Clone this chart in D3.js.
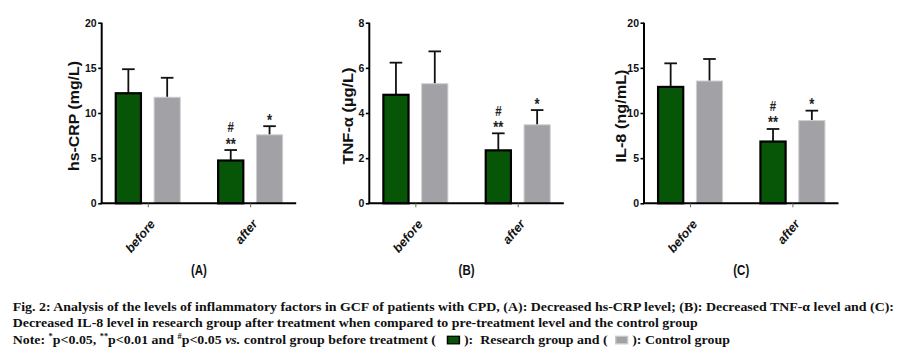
<!DOCTYPE html>
<html>
<head>
<meta charset="utf-8">
<script src="https://cdn.jsdelivr.net/npm/d3@7"></script>
<style>
  html, body { margin: 0; padding: 0; background: #fff; }
  svg { display: block; }
</style>
</head>
<body>
<svg id="chart" width="916" height="357"></svg>
<script>
// ---------- data ----------
const categories = ["before", "after"];
const groups = ["Research group", "Control group"];
const panelLabels = ["(A)", "(B)", "(C)"];
const yTitles = ["hs-CRP (mg/L)", "TNF-\u03b1 (\u00b5g/L)", "IL-8 (ng/mL)"];
const yMax = [20, 8, 20];
const yTicks = [[0, 5, 10, 15, 20], [0, 2, 4, 6, 8], [0, 5, 10, 15, 20]];

const crpResearch = [12.3, 4.85];
const crpResearchSD = [2.55, 1.05];
const crpControl = [11.8, 7.64];
const crpControlSD = [2.1, 0.9];

const tnfResearch = [4.85, 2.39];
const tnfResearchSD = [1.38, 0.71];
const tnfControl = [5.32, 3.5];
const tnfControlSD = [1.41, 0.63];

const il8Research = [13.0, 6.95];
const il8ResearchSD = [2.5, 1.28];
const il8Control = [13.6, 9.22];
const il8ControlSD = [2.38, 1.04];

// significance marks on the "after" bars (top line first)
const researchMarks = ["#", "**"];
const controlMarks = ["*"];

const panels = [
  { research: crpResearch, researchSD: crpResearchSD, control: crpControl, controlSD: crpControlSD },
  { research: tnfResearch, researchSD: tnfResearchSD, control: tnfControl, controlSD: tnfControlSD },
  { research: il8Research, researchSD: il8ResearchSD, control: il8Control, controlSD: il8ControlSD }
];

// ---------- layout ----------
const layout = [
  { x0: 101.7, titleDx: 28, titleLen: 110 },
  { x0: 369.3, titleDx: 21, titleLen: 97 },
  { x0: 644.0, titleDx: 23.5, titleLen: 93 }
];
const plotW = 194.5;
const yTop = 22.7, yBottom = 203.3;
const colors = { "Research group": "#075607", "Control group": "#a2a1a6" };
const strokes = { "Research group": "#000", "Control group": "#cfcfd2" };

const svg = d3.select("#chart");
const sans = "'Liberation Sans', Arial, sans-serif";
const serif = "'Liberation Serif', 'Times New Roman', serif";

panels.forEach((p, i) => {
  const L = layout[i];
  const g = svg.append("g");
  const x = d3.scalePoint().domain(categories).range([L.x0, L.x0 + plotW]).padding(0.45);
  const xin = d3.scaleBand().domain(groups).range([-33, 33]).paddingInner(0.3);
  const y = d3.scaleLinear().domain([0, yMax[i]]).range([yBottom, yTop]);

  const rows = [];
  categories.forEach((c, ci) => {
    rows.push({ cat: c, grp: groups[0], v: p.research[ci], sd: p.researchSD[ci], ci });
    rows.push({ cat: c, grp: groups[1], v: p.control[ci], sd: p.controlSD[ci], ci });
  });

  // error bars (upper only), drawn behind bars
  const eb = g.append("g").attr("stroke", "#111").attr("stroke-width", 1.8).attr("fill", "none");
  rows.forEach(r => {
    const cx = x(r.cat) + xin(r.grp) + xin.bandwidth() / 2;
    eb.append("line").attr("x1", cx).attr("x2", cx).attr("y1", y(r.v) + 6).attr("y2", y(r.v + r.sd));
    eb.append("line").attr("x1", cx - 6.3).attr("x2", cx + 6.3).attr("y1", y(r.v + r.sd)).attr("y2", y(r.v + r.sd));
  });

  // bars
  g.append("g").selectAll("rect").data(rows).join("rect")
    .attr("x", r => x(r.cat) + xin(r.grp) + (r.grp === groups[0] ? 1 : 0.5))
    .attr("width", r => xin.bandwidth() - (r.grp === groups[0] ? 2 : 1))
    .attr("y", r => y(r.v) + (r.grp === groups[0] ? 1 : 0.5))
    .attr("height", r => yBottom - y(r.v) - (r.grp === groups[0] ? 1 : 0.5))
    .attr("fill", r => colors[r.grp])
    .attr("stroke", r => strokes[r.grp])
    .attr("stroke-width", r => r.grp === groups[0] ? 2.2 : 1);

  // significance marks (one text element per bar, stacked lines)
  rows.filter(r => r.cat === "after").forEach(r => {
    const cx = x(r.cat) + xin(r.grp) + xin.bandwidth() / 2;
    const top = y(r.v + r.sd);
    const marks = r.grp === groups[0] ? researchMarks : controlMarks;
    const t = g.append("text")
      .attr("transform", `translate(${cx},${top - 0.5}) scale(1,1.3)`)
      .attr("text-anchor", "middle")
      .attr("font-family", sans).attr("font-weight", "bold")
      .attr("font-size", 13).attr("fill", "#222");
    const n = marks.length;
    marks.forEach((m, mi) => {
      const isStar = m.indexOf("*") >= 0;
      t.append("tspan").attr("x", 0)
        .attr("y", -(n - 1 - mi) * 13.1)
        .attr("font-size", isStar ? 13 : 11.5)
        .text(m);
    });
  });

  // y axis
  const ya = g.append("g").attr("transform", `translate(${L.x0},0)`)
    .call(d3.axisLeft(y).tickValues(yTicks[i]).tickSize(3.5).tickPadding(1.5).tickFormat(d3.format("d")));
  ya.select(".domain").attr("stroke", "#000").attr("stroke-width", 2).attr("d", `M0,${yTop}V${yBottom}`);
  ya.selectAll(".tick line").attr("stroke", "#000").attr("stroke-width", 1.6);
  ya.selectAll(".tick text").attr("font-family", sans).attr("font-weight", "bold")
    .attr("font-size", 10.5).attr("fill", "#111");

  // x axis
  const xa = g.append("g").attr("transform", `translate(0,${yBottom})`)
    .call(d3.axisBottom(x).tickSize(4).tickFormat(""));
  xa.select(".domain").attr("stroke", "#000").attr("stroke-width", 2)
    .attr("d", `M${L.x0 - 1},0H${L.x0 + plotW}`);
  xa.selectAll(".tick line").attr("stroke", "#666").attr("stroke-width", 1);

  // rotated category labels
  categories.forEach(c => {
    g.append("text")
      .attr("transform", `translate(${x(c) + 8},${yBottom + 21}) rotate(-50)`)
      .attr("text-anchor", "end")
      .attr("font-family", sans).attr("font-weight", "bold").attr("font-style", "italic")
      .attr("font-size", 12.5).attr("fill", "#111")
      .text(c);
  });

  // y title
  g.append("text")
    .attr("transform", `translate(${L.x0 - L.titleDx + 5},${(yTop + yBottom) / 2 + 3}) rotate(-90)`)
    .attr("text-anchor", "middle")
    .attr("font-family", sans).attr("font-weight", "bold").attr("font-size", 14)
    .attr("textLength", L.titleLen).attr("lengthAdjust", "spacingAndGlyphs")
    .attr("fill", "#111")
    .text(yTitles[i]);

  // panel label
  g.append("text")
    .attr("transform", `translate(${L.x0 + plotW / 2},275) scale(1,1.3)`)
    .attr("text-anchor", "middle")
    .attr("font-family", sans).attr("font-weight", "bold").attr("font-size", 11.5)
    .attr("fill", "#111")
    .text(panelLabels[i]);
});

// ---------- caption ----------
const capX = 12.7, capSize = 12.3, capLine1Width = 882;
const cap1 = "Fig. 2: Analysis of the levels of inflammatory factors in GCF of patients with CPD, (A): Decreased hs-CRP level; (B): Decreased TNF-\u03b1 level and (C):";
const cap2 = "Decreased IL-8 level in research group after treatment when compared to pre-treatment level and the control group";
const capG = svg.append("g");
const capInner = capG.append("g");
function capText(yy) {
  return capInner.append("text").attr("x", 0).attr("y", yy)
    .attr("font-family", serif).attr("font-weight", "bold").attr("font-size", capSize).attr("fill", "#111");
}
const l1 = capText(310.7).text(cap1);
capText(327.3).text(cap2);
const sx = capLine1Width / l1.node().getComputedTextLength();
capInner.attr("transform", `translate(${capX},0) scale(${sx},1)`);

// line 3 with superscripts, italic and legend swatches
let cx = 0;
const ly = 344.3;
function run(parts) {
  const t = capInner.append("text").attr("x", cx).attr("y", ly)
    .attr("font-family", serif).attr("font-weight", "bold").attr("font-size", capSize).attr("fill", "#111")
    .attr("xml:space", "preserve").style("white-space", "pre");
  parts.forEach(pt => {
    const ts = t.append("tspan").text(pt.t);
    if (pt.sup) ts.attr("font-size", capSize * 0.6).attr("dy", -5);
    if (pt.after) ts.attr("dy", 5);
    if (pt.it) ts.attr("font-style", "italic");
  });
  cx += t.node().getComputedTextLength();
}
function swatch(grp) {
  capInner.append("rect").attr("x", cx + 1).attr("y", ly - 8).attr("width", 10.5).attr("height", 7.5)
    .attr("fill", colors[grp]).attr("stroke", grp === groups[0] ? "#000" : "#c8c8c8").attr("stroke-width", 1.3);
  cx += 12.5;
}
run([{ t: "Note: " }, { t: "*", sup: true }, { t: "p<0.05, ", after: true }, { t: "**", sup: true },
     { t: "p<0.01 and ", after: true }, { t: "#", sup: true }, { t: "p<0.05 ", after: true },
     { t: "vs.", it: true }, { t: " control group before treatment (   " }]);
swatch(groups[0]);
run([{ t: " ):  Research group and (  " }]);
swatch(groups[1]);
run([{ t: " ): Control group" }]);
</script>
</body>
</html>
